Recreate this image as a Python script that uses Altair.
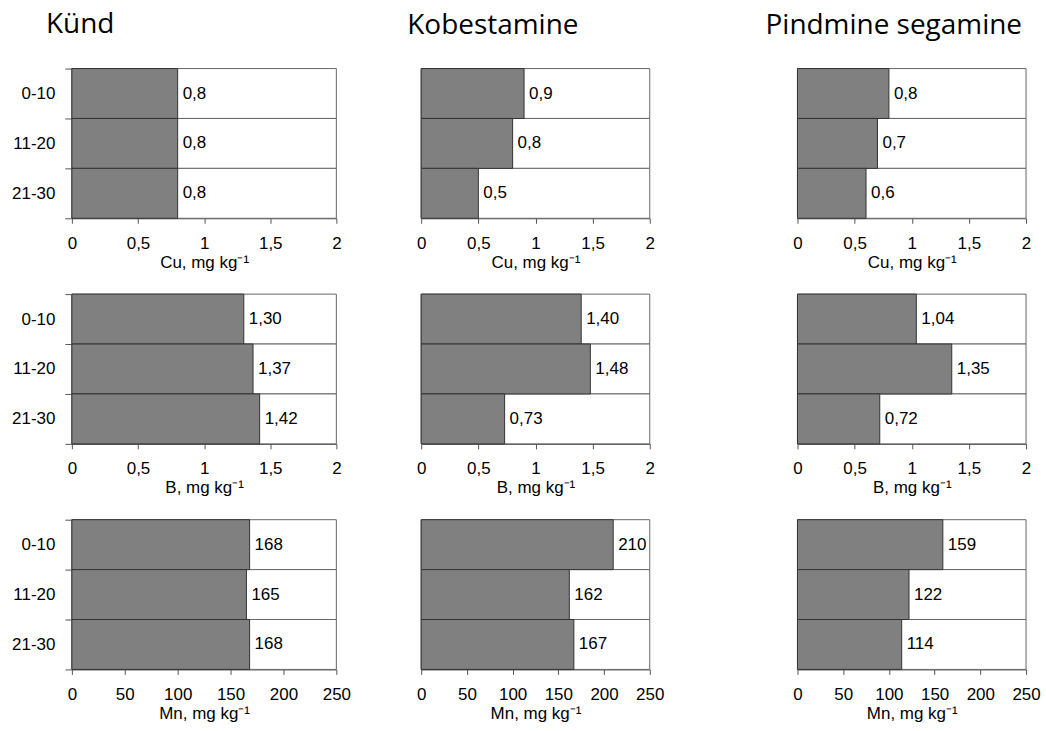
import altair as alt
import pandas as pd

depths = ["0-10", "11-20", "21-30"]
methods = ["Künd", "Kobestamine", "Pindmine segamine"]
elements = ["Cu", "B", "Mn"]

# values per method (rows: 0-10, 11-20, 21-30)
kund_cu = [0.8, 0.8, 0.8]
kund_b = [1.30, 1.37, 1.42]
kund_mn = [168, 165, 168]
kobe_cu = [0.9, 0.8, 0.5]
kobe_b = [1.40, 1.48, 0.73]
kobe_mn = [210, 162, 167]
pind_cu = [0.8, 0.7, 0.6]
pind_b = [1.04, 1.35, 0.72]
pind_mn = [159, 122, 114]

axis_max = {"Cu": 2, "B": 2, "Mn": 250}
tick_values = {"Cu": [0, 0.5, 1, 1.5, 2], "B": [0, 0.5, 1, 1.5, 2],
               "Mn": [0, 50, 100, 150, 200, 250]}
decimals = {"Cu": 1, "B": 2, "Mn": 0}
axis_titles = {"Cu": "Cu, mg kg⁻¹", "B": "B, mg kg⁻¹", "Mn": "Mn, mg kg⁻¹"}

data = {
    "Künd": {"Cu": kund_cu, "B": kund_b, "Mn": kund_mn},
    "Kobestamine": {"Cu": kobe_cu, "B": kobe_b, "Mn": kobe_mn},
    "Pindmine segamine": {"Cu": pind_cu, "Mn": pind_mn, "B": pind_b},
}

# plot widths and left offset (extra gap) of each column
col_width = {"Künd": 265, "Kobestamine": 229, "Pindmine segamine": 229}
col_offset = {"Künd": 0, "Kobestamine": 0, "Pindmine segamine": 63}
title_dx = {"Künd": -26, "Kobestamine": -14, "Pindmine segamine": -32}
title_dy = {"Künd": 34, "Kobestamine": 27, "Pindmine segamine": 27}

LABEL_FONT = "Liberation Sans"
FS = 17


def panel(method, element, show_title):
    vals = data[method][element]
    d = decimals[element]
    df = pd.DataFrame({
        "depth": depths,
        "value": vals,
        "max": [axis_max[element]] * 3,
        "label": [f"{v:.{d}f}".replace(".", ",") for v in vals],
    })
    show_y = method == "Künd"
    yaxis = alt.Axis(title=None, labelFont=LABEL_FONT, labelFontSize=FS,
                     labelColor="black", tickSize=7, tickColor="#555",
                     tickBand="extent", labelPadding=10, domain=False) if show_y else None
    y = alt.Y("depth:N", sort=depths,
              scale=alt.Scale(paddingInner=0, paddingOuter=0), axis=yaxis)
    off = col_offset[method]
    w = col_width[method]
    xscale = alt.Scale(domain=[0, axis_max[element]], nice=False,
                       range=[off, off + w])
    xaxis = alt.Axis(values=tick_values[element],
                     labelExpr="replace(toString(datum.value), '.', ',')",
                     title=axis_titles[element], labelFont=LABEL_FONT,
                     labelFontSize=FS, labelColor="black", labelPadding=12,
                     tickSize=5, tickColor="#555", domainColor="#444",
                     titleFont=LABEL_FONT, titleFontSize=FS,
                     titleFontWeight="normal", titleColor="black",
                     titlePadding=3, grid=False, labelFlush=False)
    base = alt.Chart(df)
    bg = base.mark_bar(fill="white", stroke="#666", strokeWidth=1).encode(
        x=alt.X("max:Q", scale=xscale, axis=xaxis), y=y)
    fg = base.mark_bar(fill="#808080", stroke="#333", strokeWidth=1).encode(
        x=alt.X("value:Q", scale=xscale), y=y)
    txt = base.mark_text(align="left", dx=5, font=LABEL_FONT, fontSize=FS,
                         color="black").encode(
        x=alt.X("value:Q", scale=xscale), y=y, text="label:N")
    props = dict(width=off + w, height=150)
    if show_title:
        props["title"] = alt.TitleParams(
            text=method, anchor="start", frame="group",
            dx=title_dx[method] + off, dy=title_dy[method],
            font="Open Sans", fontSize=28, fontWeight="normal",
            color="black", baseline="alphabetic", offset=33)
    return alt.layer(bg, fg, txt).properties(**props)


panels = []
for e_i, e in enumerate(elements):
    for m in methods:
        panels.append(panel(m, e, e_i == 0))

chart = alt.concat(*panels, columns=3, bounds="flush",
                   spacing={"row": 76, "column": 85}).resolve_scale(
    x="independent", y="independent"
).properties(
    padding={"left": 11, "top": 10, "right": 5, "bottom": 5}
).configure_view(stroke=None)

chart.save("out.html", embed_options={"renderer": "svg", "actions": False})
